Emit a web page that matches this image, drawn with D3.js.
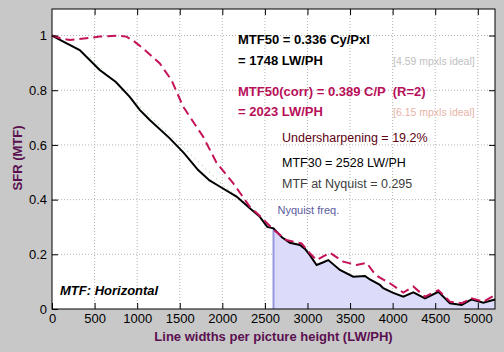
<!DOCTYPE html>
<html>
<head>
<meta charset="utf-8">
<script src="https://cdn.jsdelivr.net/npm/d3@7"></script>
<style>
  body { margin: 0; background: #c8c8c8; }
  svg { display: block; font-family: "Liberation Sans", Arial, sans-serif; }
  .grid line { stroke: #b4b4b4; stroke-dasharray: 1,2; }
  .axis text { font-size: 13px; fill: #000; }
</style>
</head>
<body>
<svg width="504" height="352"></svg>
<script>
// measured MTF (black)
const mtfFreq = [0, 150, 325, 560, 750, 913, 1030, 1148, 1383, 1550, 1716, 1850, 1974, 2167, 2323, 2441, 2528, 2601, 2700, 2793, 2911, 2970, 3028, 3107, 3180, 3244, 3381, 3537, 3675, 3733, 3851, 3890, 4000, 4125, 4243, 4380, 4537, 4673, 4811, 4928, 5065, 5202];
const mtfVal  = [1.0, 0.975, 0.947, 0.874, 0.83, 0.776, 0.728, 0.691, 0.624, 0.57, 0.508, 0.47, 0.447, 0.411, 0.368, 0.337, 0.30, 0.295, 0.262, 0.242, 0.234, 0.22, 0.197, 0.161, 0.17, 0.179, 0.143, 0.118, 0.121, 0.108, 0.088, 0.076, 0.06, 0.045, 0.061, 0.039, 0.063, 0.021, 0.015, 0.035, 0.023, 0.035];

// standardized sharpening (red dashed)
const corrFreq = [0, 100, 208, 400, 560, 757, 874, 960, 1070, 1266, 1403, 1540, 1775, 1932, 2127, 2323, 2441, 2601, 2754, 2872, 2930, 3028, 3107, 3263, 3420, 3577, 3694, 3772, 3831, 3968, 4125, 4243, 4380, 4537, 4673, 4811, 4928, 5065, 5202];
const corrVal  = [1.0, 0.99, 0.984, 0.99, 0.996, 0.9995, 0.996, 0.98, 0.953, 0.898, 0.837, 0.740, 0.630, 0.535, 0.46, 0.374, 0.34, 0.29, 0.252, 0.244, 0.240, 0.204, 0.179, 0.206, 0.173, 0.161, 0.169, 0.136, 0.118, 0.094, 0.060, 0.082, 0.045, 0.069, 0.027, 0.021, 0.039, 0.027, 0.051];

// faint green dotted reference
const fitFreq = [450, 700, 1000, 1300, 1700, 2000, 2300];
const fitVal  = [0.92, 0.84, 0.75, 0.66, 0.545, 0.455, 0.38];

const nyquist = 2601;
const xTicks = [0, 500, 1000, 1500, 2000, 2500, 3000, 3500, 4000, 4500, 5000];
const yTicks = [0, 0.2, 0.4, 0.6, 0.8, 1];

const margin = {left: 52, top: 9, right: 9, bottom: 43};
const width = 504, height = 352;
const innerW = width - margin.left - margin.right;
const innerH = height - margin.top - margin.bottom;

const svg = d3.select('svg');
const g = svg.append('g').attr('transform', `translate(${margin.left},${margin.top})`);

const x = d3.scaleLinear().domain([0, 5202]).range([0, innerW]);
const y = d3.scaleLinear().domain([0, 1.097]).range([innerH, 0]);

g.append('rect').attr('width', innerW).attr('height', innerH).attr('fill', '#fff');

// grid
g.append('g').attr('class', 'grid')
  .selectAll('line').data(xTicks.slice(1)).enter().append('line')
  .attr('x1', d => x(d)).attr('x2', d => x(d)).attr('y1', 0).attr('y2', innerH);
g.append('g').attr('class', 'grid')
  .selectAll('line').data(yTicks.slice(1)).enter().append('line')
  .attr('y1', d => y(d)).attr('y2', d => y(d)).attr('x1', 0).attr('x2', innerW);

const mtf = mtfFreq.map((f, i) => [f, mtfVal[i]]);
const corr = corrFreq.map((f, i) => [f, corrVal[i]]);
const fit = fitFreq.map((f, i) => [f, fitVal[i]]);

// shaded region past Nyquist
const beyond = mtf.filter(d => d[0] >= nyquist);
g.append('path')
  .datum(beyond)
  .attr('fill', '#dcdcfa')
  .attr('d', d3.area().x(d => x(d[0])).y0(innerH).y1(d => y(d[1])));
g.append('line')
  .attr('x1', x(nyquist)).attr('x2', x(nyquist))
  .attr('y1', innerH).attr('y2', y(0.297))
  .attr('stroke', '#9898dc').attr('stroke-width', 2);
g.append('text').attr('x', x(nyquist) + 4).attr('y', 205)
  .attr('font-size', 11).attr('fill', '#5a5aa0').text('Nyquist freq.');

const line = d3.line().x(d => x(d[0])).y(d => y(d[1]));

g.append('path').datum(fit).attr('d', line)
  .attr('fill', 'none').attr('stroke', '#70c070').attr('stroke-width', 1).attr('stroke-dasharray', '1,4');

g.append('path').datum(mtf).attr('d', line)
  .attr('fill', 'none').attr('stroke', '#000').attr('stroke-width', 2);

g.append('path').datum(corr).attr('d', line)
  .attr('fill', 'none').attr('stroke', '#c41258').attr('stroke-width', 2).attr('stroke-dasharray', '9,5');

// axes, ticks pointing inward on all sides
g.append('g').attr('class', 'axis').attr('transform', `translate(0,${innerH})`)
  .call(d3.axisBottom(x).tickValues(xTicks).tickFormat(d3.format('d')).tickSizeInner(-6).tickSizeOuter(0).tickPadding(5));
g.append('g').attr('class', 'axis')
  .call(d3.axisLeft(y).tickValues(yTicks).tickFormat(d3.format('~g')).tickSizeInner(-6).tickSizeOuter(0).tickPadding(5));
g.append('g').attr('class', 'axis')
  .call(d3.axisTop(x).tickValues(xTicks.slice(1)).tickSizeInner(-6).tickSizeOuter(0).tickFormat(''));
g.append('g').attr('class', 'axis').attr('transform', `translate(${innerW},0)`)
  .call(d3.axisRight(y).tickValues(yTicks.slice(1)).tickSizeInner(-6).tickSizeOuter(0).tickFormat(''));
g.selectAll('.axis .domain').remove();
g.selectAll('.axis line').attr('stroke', '#000');
g.append('rect').attr('width', innerW).attr('height', innerH)
  .attr('fill', 'none').attr('stroke', '#000').attr('stroke-width', 1);

// labels
svg.append('text').attr('x', margin.left + innerW / 2).attr('y', 341)
  .attr('text-anchor', 'middle').attr('font-size', 13).attr('font-weight', 'bold')
  .attr('fill', '#5a1050').text('Line widths per picture height (LW/PH)');
svg.append('text').attr('transform', 'translate(22,158) rotate(-90)')
  .attr('text-anchor', 'middle').attr('font-size', 13).attr('font-weight', 'bold')
  .attr('fill', '#5a1050').text('SFR (MTF)');

const notes = [
  {t: 'MTF50 = 0.336 Cy/Pxl', x: 238, y: 44, c: '#000', w: 'bold', s: 13},
  {t: '= 1748 LW/PH', x: 238, y: 65, c: '#000', w: 'bold', s: 13},
  {t: '[4.59 mpxls ideal]', x: 393, y: 65, c: '#c0c0c0', w: 'normal', s: 10.5},
  {t: 'MTF50(corr) = 0.389 C/P  (R=2)', x: 238, y: 96, c: '#b8105a', w: 'bold', s: 13},
  {t: '= 2023 LW/PH', x: 238, y: 116, c: '#b8105a', w: 'bold', s: 13},
  {t: '[6.15 mpxls ideal]', x: 393, y: 116, c: '#e8b4a8', w: 'normal', s: 10.5},
  {t: 'Undersharpening = 19.2%', x: 282, y: 141.5, c: '#600010', w: 'normal', s: 12.5},
  {t: 'MTF30 = 2528 LW/PH', x: 282, y: 166.5, c: '#000', w: 'normal', s: 12.5},
  {t: 'MTF at Nyquist = 0.295', x: 282, y: 188, c: '#404040', w: 'normal', s: 12.5}
];
svg.selectAll('.note').data(notes).enter().append('text')
  .attr('class', 'note')
  .attr('x', d => d.x).attr('y', d => d.y)
  .attr('fill', d => d.c).attr('font-weight', d => d.w).attr('font-size', d => d.s)
  .attr('xml:space', 'preserve')
  .text(d => d.t);

svg.append('text').attr('x', 60).attr('y', 295)
  .attr('font-size', 13).attr('font-weight', 'bold').attr('font-style', 'italic')
  .text('MTF: Horizontal');
</script>
</body>
</html>
